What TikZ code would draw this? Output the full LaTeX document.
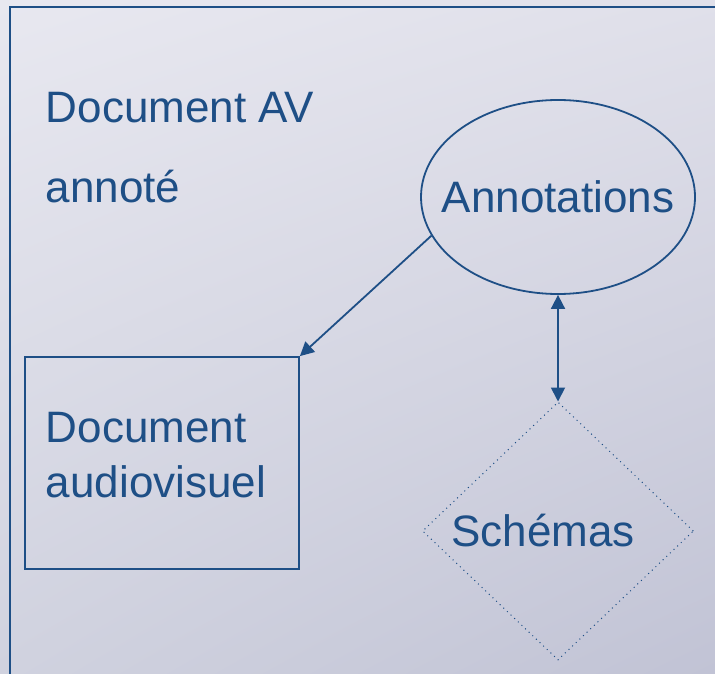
\documentclass[tikz,border=0pt]{standalone}
\usepackage{fontspec}
\setmainfont{Liberation Sans}
\usepackage{tikz}
\usetikzlibrary{shapes}
\usetikzlibrary{shadings}
\usetikzlibrary{arrows.meta}
\definecolor{ink}{HTML}{1E4F86}
\definecolor{fondA}{RGB}{232,232,240}
\definecolor{fondB}{RGB}{224,224,234}
\definecolor{fondC}{RGB}{208,210,223}
\definecolor{fondD}{RGB}{193,195,213}

\begin{document}
\begin{tikzpicture}[x = 0.5pt, y = -0.5pt, line width = 0.9pt,
	every node/.style = {text = ink, font = \fontsize{22}{27.5}\selectfont, inner sep = 0pt},
	txt/.style = {anchor = base west, align = left},
	fleche/.style = {draw = ink, -{Triangle[length = 7pt, width = 7pt]}}]
		\useasboundingbox (0,0) rectangle (715,673);
		\shade[upper left = fondA, upper right = fondB, lower left = fondC, lower right = fondD] (0,0) rectangle (715,673);
		\draw[ink] (10,7) rectangle (740,700);
		
		\node[txt] (docav) at (45,203) {Document AV\\[12.5pt]annoté};
		\node[ellipse, draw = ink, minimum width = 137pt, minimum height = 97pt,
			label = {center:Annotations}] (annot) at (558,197) {};
		\node[draw = ink, minimum width = 137pt, minimum height = 106pt] (boite) at (162,463) {};
		\node[txt] (docaudio) at (45,497) {Document\\audiovisuel};
		\node[diamond, draw = ink, dotted, line width = 0.5pt, minimum width = 135.5pt, minimum height = 129pt,
			label = {[xshift = -7.5pt]center:Schémas}] (schemas) at (558,531) {};
		
		\draw[fleche] (annot.197) -- (boite.north east);
		\draw[fleche, {Triangle[length = 7pt, width = 7pt]}-{Triangle[length = 7pt, width = 7pt]}] (annot.south) -- (schemas.north);
		
\end{tikzpicture}
\end{document}
